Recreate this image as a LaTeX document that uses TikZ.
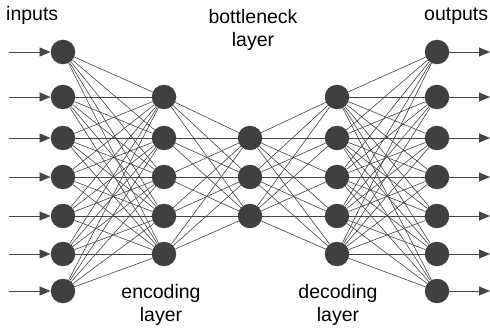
\documentclass[tikz,border=0pt]{standalone}
\usepackage{fontspec}
\setmainfont{Liberation Sans}
\usetikzlibrary{arrows.meta}
\definecolor{unitgray}{HTML}{404040}
\definecolor{wiregray}{HTML}{454545}

\begin{document}
\begin{tikzpicture}[x=1pt, y=-1pt,
  unit/.style={circle, fill=unitgray, minimum size=24.5pt, inner sep=0pt},
  wire/.style={wiregray, line width=0.6pt},
  io/.style={wiregray, line width=0.8pt, -{Triangle[length=11pt, width=9pt]}},
  lbl/.style={font=\fontsize{19.5}{23.5}\selectfont, align=center, inner sep=0pt}]
\useasboundingbox (0,0) rectangle (490,331);

% units of the five layers
\foreach \i/\y in {1/52, 2/97, 3/138, 4/177, 5/216, 6/254, 7/291} {
  \node[unit] (in\i) at (63,\y) {};
  \node[unit] (out\i) at (437,\y) {};
  \coordinate (src\i) at (9,\y);
  \coordinate (dst\i) at (490,\y);
}
\foreach \i/\y in {1/97, 2/138, 3/177, 4/216, 5/254} {
  \node[unit] (enc\i) at (164,\y) {};
  \node[unit] (dec\i) at (337,\y) {};
}
\foreach \i/\y in {1/138, 2/177, 3/216}
  \node[unit] (neck\i) at (250,\y) {};

% full connections between neighbouring layers
\foreach \i in {1,...,7}
  \foreach \j in {1,...,5} {
    \draw[wire] (in\i) -- (enc\j);
    \draw[wire] (dec\j) -- (out\i);
  }
\foreach \i in {1,...,5}
  \foreach \j in {1,...,3} {
    \draw[wire] (enc\i) -- (neck\j);
    \draw[wire] (neck\j) -- (dec\i);
  }

% inputs and outputs
\foreach \i in {1,...,7} {
  \draw[io] (src\i) -- (in\i);
  \draw[io] (out\i) -- (dst\i);
}

% labels
\node[lbl, anchor=base west] (inlbl) at (6,21) {inputs};
\node[lbl, anchor=base west] (outlbl) at (424,21) {outputs};
\node[lbl, anchor=north] (necklbl) at (253,9) {bottleneck\\layer};
\node[lbl, anchor=north] (enclbl) at (161,284) {encoding\\layer};
\node[lbl, anchor=north] (declbl) at (338,284) {decoding\\layer};
\end{tikzpicture}
\end{document}
